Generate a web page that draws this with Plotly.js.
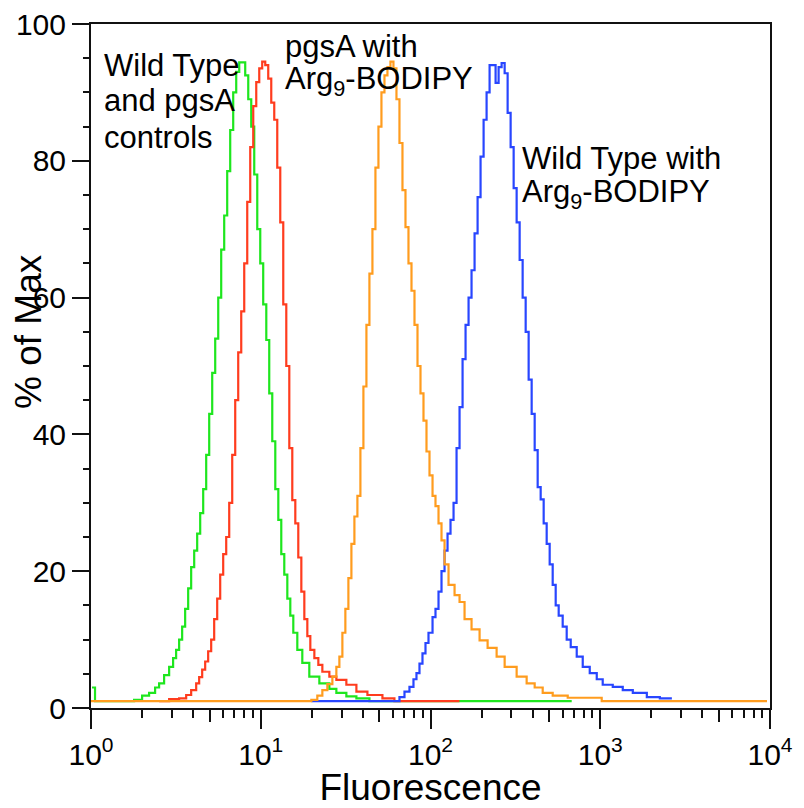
<!DOCTYPE html>
<html>
<head>
<meta charset="utf-8">
<script src="https://cdn.plot.ly/plotly-3.0.1.min.js"></script>
<style>html,body{margin:0;padding:0;background:#fff;}#chart{width:804px;height:808px;}</style>
</head>
<body>
<div id="chart"></div>
<script>
// Fluorescence (x) and % of Max (y) for each histogram
var wtControlFluor = [1.014, 1.056, 1.794, 2.0, 2.199, 2.386, 2.519, 2.696, 2.886, 3.046, 3.173, 3.305, 3.443, 3.586, 3.736, 3.891, 4.054, 4.222, 4.398, 4.581, 4.771, 4.97, 5.177, 5.392, 5.617, 5.848, 6.091, 6.344, 6.608, 6.883, 7.17, 7.468, 7.779, 8.1, 8.44, 8.79, 9.155, 9.537, 9.933, 10.34, 10.78, 11.22, 11.69, 12.18, 12.69, 13.21, 13.76, 14.34, 14.93, 15.55, 16.42, 17.57, 19.32, 22.14, 25.36, 27.89, 31.94, 36.6, 43.67, 679];
var wtControlPct = [3, 1, 1.2, 1.8, 2.2, 3, 3.6, 4.8, 6, 7.3, 8.5, 10, 11.9, 14.5, 17.5, 20.6, 23, 25.5, 28.5, 32, 37, 43, 49, 54, 60, 67, 72, 78.5, 84.5, 90, 93, 94.4, 94.4, 92.5, 89, 85, 78, 70, 65, 59, 53.8, 46, 39, 32, 27.5, 22.5, 19.5, 16, 13.5, 11, 8.5, 6.6, 4.6, 3.6, 2.8, 2.2, 1.7, 1.4, 1.0, 1.0];

var pgsAControlFluor = [2.519, 2.886, 3.305, 3.636, 3.891, 4.165, 4.337, 4.518, 4.706, 4.9, 5.105, 5.317, 5.539, 5.769, 6.009, 6.259, 6.52, 6.791, 7.073, 7.367, 7.674, 7.993, 8.325, 8.671, 9.032, 9.408, 9.799, 10.2, 10.63, 11.07, 11.53, 12.01, 12.51, 13.03, 13.57, 14.14, 14.73, 15.34, 15.98, 16.64, 17.34, 18.06, 18.81, 19.59, 20.69, 21.84, 23.06, 25.36, 27.89, 31.94, 36.6, 42.5, 52.1, 61.3, 148];
var pgsAControlPct = [1, 1.3, 1.4, 1.9, 2.6, 3.6, 4.5, 5.6, 6.8, 8.3, 10, 13, 16, 19.5, 22.5, 25, 30, 37, 45, 52, 58, 65, 74, 82, 88, 91.5, 93.5, 94.5, 94, 92, 88.5, 86, 79, 71, 59, 50, 38, 30.4, 27, 22, 17, 13, 10.5, 8.5, 7.3, 6.3, 5.3, 4.6, 4.1, 3.4, 2.4, 1.9, 1.4, 1.0, 1.0];

var wtArgFluor = [19.86, 58.9, 65.64, 70.26, 75.17, 79.37, 82.67, 86.11, 89.69, 93.43, 97.32, 102.8, 107, 111.5, 116.1, 121, 126, 131.2, 136.7, 142.4, 148.3, 154.5, 160.9, 167.6, 174.5, 181.8, 189.4, 197.2, 205.5, 214, 222.9, 232.2, 241.8, 251.9, 262.4, 273.4, 284.7, 296.5, 308.9, 321.7, 335.1, 349, 363.6, 378.6, 394.4, 410.9, 427.9, 445.7, 464.2, 483.5, 503.6, 524.6, 546.4, 569.1, 600.8, 634.4, 669.9, 726.8, 788.6, 867.2, 953.7, 1034, 1185, 1357, 1555, 1881, 2244, 2642];
var wtArgPct = [1, 1, 1.6, 2.4, 3.1, 4.2, 5.1, 6.5, 8, 9.5, 11, 13.3, 14.5, 17, 20, 23, 25.5, 27.5, 30, 38, 44, 51, 56, 60, 64, 69.4, 74.7, 80.6, 86, 90, 94, 94, 91.4, 93.7, 94.3, 92.8, 87, 82, 76, 71, 65.5, 60, 55, 48, 43, 37.7, 32.3, 30.5, 27, 24, 21, 18, 15, 13.5, 11.9, 10, 8.9, 7.5, 6, 5.1, 4.2, 3.4, 3.1, 2.6, 2.2, 1.6, 1.4, 1.4];

var pgsAArgFluor = [1.0, 19.86, 21.54, 23.06, 24.68, 26.42, 27.89, 29.05, 30.26, 31.51, 32.83, 34.2, 35.62, 37.1, 38.64, 40.25, 41.93, 43.67, 45.49, 47.38, 49.35, 51.4, 53.55, 55.77, 58.08, 60.5, 63.02, 65.64, 68.37, 71.22, 74.18, 77.27, 80.48, 83.83, 87.3, 90.93, 94.7, 98.65, 102.8, 107, 111.5, 116.1, 121, 127.7, 138.6, 148.3, 158.7, 174.5, 194.6, 217, 245.2, 273.4, 321.7, 368.5, 410.9, 458.1, 524.6, 643.2, 1020, 9600];
var pgsAArgPct = [1, 1.2, 1.8, 2.6, 3.5, 4.6, 6, 7.5, 11, 14.5, 19, 24, 28, 31, 38, 47, 56, 63.5, 70, 79, 85, 90, 92.5, 93.7, 94.5, 93.5, 89, 82.6, 75.7, 70.3, 65, 61, 56, 50, 46, 42, 37.5, 34, 31, 29.5, 27, 24.5, 21, 18, 16.5, 15.5, 13, 11.5, 9.9, 8.8, 7.5, 6, 4.6, 3.6, 3, 2.2, 1.8, 1.5, 1, 1];

var xMajorVals = [1, 10, 100, 1000, 10000];
var xMajorText = ['10<sup>0</sup>', '10<sup>1</sup>', '10<sup>2</sup>', '10<sup>3</sup>', '10<sup>4</sup>'];
var yTickVals = [0, 20, 40, 60, 80, 100];

var xMinorVals = [];
var xFiveVals = [];
for (var d = 1; d <= 1000; d *= 10) {
  [2, 3, 4, 6, 7, 8, 9].forEach(function (m) { xMinorVals.push(m * d); });
  xFiveVals.push(5 * d);
}

var FONT = 'Liberation Sans, Arial, Helvetica, sans-serif';

function trace(x, y, color) {
  return { x: x, y: y, type: 'scatter', mode: 'lines',
           line: { color: color, width: 2.2, shape: 'hv' },
           hoverinfo: 'skip', showlegend: false };
}

var data = [
  trace(wtControlFluor, wtControlPct, '#1ee61e'),
  trace(pgsAControlFluor, pgsAControlPct, '#ff3c1e'),
  trace(wtArgFluor, wtArgPct, '#2846ff'),
  trace(pgsAArgFluor, pgsAArgPct, '#ff9c1e'),
  { x: [1, 10000], y: [0, 0], xaxis: 'x2', type: 'scatter', mode: 'lines',
    line: { width: 0 }, hoverinfo: 'skip', showlegend: false }
];

function label(text, px, py, size) {
  return { text: text, xref: 'paper', yref: 'paper',
           x: (px - 91) / 679, y: (708 - py) / 684,
           xanchor: 'left', yanchor: 'middle', align: 'left', showarrow: false,
           font: { size: size, family: FONT, color: '#000' } };
}

var layout = {
  width: 804, height: 808,
  margin: { l: 91, r: 34, t: 24, b: 100 },
  paper_bgcolor: '#fff', plot_bgcolor: '#fff',
  font: { family: FONT, color: '#000' },
  xaxis: {
    type: 'log', range: [0, 4],
    tickmode: 'array', tickvals: xMajorVals, ticktext: xMajorText,
    ticks: 'outside', ticklen: 19, tickwidth: 2, tickcolor: '#111',
    showline: true, linewidth: 2, linecolor: '#111', mirror: true,
    showgrid: false, zeroline: false,
    tickfont: { size: 30, family: FONT, color: '#000' },
    minor: { tickmode: 'array', tickvals: xMinorVals, ticks: 'outside', ticklen: 8, tickwidth: 2, tickcolor: '#111', showgrid: false },
    title: { text: 'Fluorescence', font: { size: 37, family: FONT, color: '#000' }, standoff: 13 }
  },
  xaxis2: {
    type: 'log', range: [0, 4], overlaying: 'x', anchor: 'y', side: 'bottom',
    tickmode: 'array', tickvals: xFiveVals, showticklabels: false,
    ticks: 'outside', ticklen: 13, tickwidth: 2, tickcolor: '#111',
    showline: false, showgrid: false, zeroline: false
  },
  yaxis: {
    range: [0, 100],
    tickmode: 'array', tickvals: yTickVals,
    ticks: 'outside', ticklen: 17, tickwidth: 2, tickcolor: '#111',
    showline: true, linewidth: 2, linecolor: '#111', mirror: true,
    showgrid: false, zeroline: false,
    tickfont: { size: 30, family: FONT, color: '#000' },
    minor: { dtick: 5, ticks: 'outside', ticklen: 6, tickwidth: 2, tickcolor: '#111', showgrid: false }
  },
  annotations: [
    { text: '% of Max', textangle: -90, xref: 'paper', yref: 'paper',
      x: (28 - 91) / 679, y: (708 - 332) / 684, xanchor: 'center', yanchor: 'middle', showarrow: false,
      font: { size: 37, family: FONT, color: '#000' } },
    label('Wild Type', 102, 65, 31),
    label('and pgsA', 102, 101, 31),
    label('controls', 102, 138, 31),
    label('pgsA with', 283, 47, 31),
    label('Arg<sub>9</sub>-BODIPY', 283, 81, 31),
    label('Wild Type with', 520, 158, 31),
    label('Arg<sub>9</sub>-BODIPY', 520, 194, 31)
  ]
};

Plotly.newPlot('chart', data, layout, { displayModeBar: false, staticPlot: true });
</script>
</body>
</html>
